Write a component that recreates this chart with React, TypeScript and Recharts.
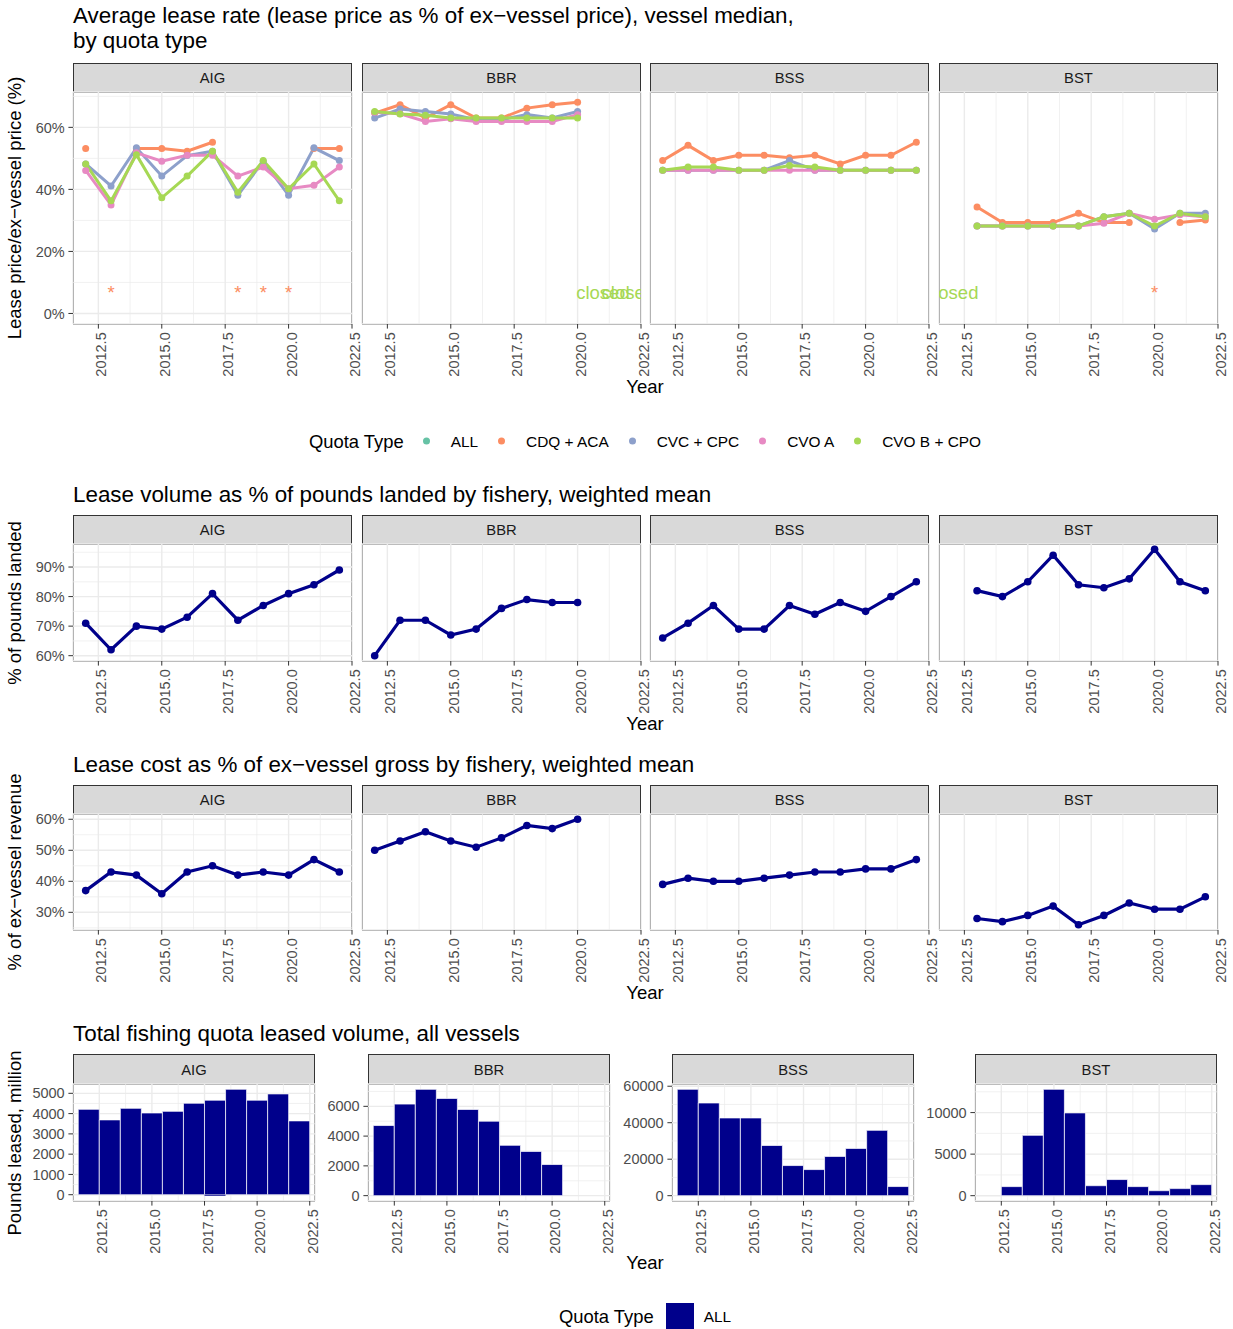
import React from 'react';
import { ComposedChart, Line, Bar, XAxis, YAxis, CartesianGrid } from 'recharts';

const FONT = '"Liberation Sans", Arial, Helvetica, sans-serif';
const NAVY = '#00008b';

// ---- data ----
const years = [2012, 2013, 2014, 2015, 2016, 2017, 2018, 2019, 2020, 2021, 2022];
const fisheries = ['AIG', 'BBR', 'BSS', 'BST'];
const firstYear = [2012, 2012, 2012, 2013]; // first year of each fishery's series
const quotaTypes = ['ALL', 'CDQ + ACA', 'CVC + CPC', 'CVO A', 'CVO B + CPO'];
const quotaColors = ['#66c2a5', '#fc8d62', '#8da0cb', '#e78ac3', '#a6d854'];

// lease rate, % of ex-vessel price (vessel median); null = suppressed
const aigCdq = [53.2, null, 53.2, 53.2, 52.3, 55.2, null, null, null, 53.2, 53.2];
const aigCvc = [48.2, 41.1, 53.4, 44.3, 50.9, 52.3, 38.1, 49.1, 38.1, 53.4, 49.3];
const aigCvoA = [46.1, 35.0, 51.8, 49.1, 51.0, 51.0, 44.3, 47.2, 40.2, 41.3, 47.2];
const aigCvoB = [48.2, 36.3, 51.2, 37.3, 44.3, 52.3, 39.1, 49.3, 40.2, 48.2, 36.3];

const bbrCdq = [64.6, 67.3, 63.0, 67.3, 63.0, 63.0, 66.2, 67.3, 68.1];
const bbrCvc = [63.0, 65.9, 65.1, 64.3, 62.5, 62.5, 64.1, 63.0, 65.1];
const bbrCvoA = [64.9, 64.4, 61.9, 62.8, 61.9, 61.9, 61.9, 61.9, 64.1];
const bbrCvoB = [65.1, 64.3, 63.9, 63.0, 63.0, 63.0, 63.0, 63.0, 63.0];

const bssCdq = [49.3, 54.2, 49.3, 51.0, 51.0, 50.2, 51.0, 48.2, 51.0, 51.0, 55.2];
const bssCvc = [46.2, 46.2, 46.2, 46.2, 46.2, 49.3, 46.2, 46.2, 46.2, 46.2, 46.2];
const bssCvoA = [46.2, 46.2, 46.2, 46.2, 46.2, 46.2, 46.2, 46.2, 46.2, 46.2, 46.2];
const bssCvoB = [46.2, 47.2, 47.2, 46.2, 46.2, 47.7, 47.2, 46.2, 46.2, 46.2, 46.2];

const bstCdq = [34.3, 29.3, 29.3, 29.3, 32.3, 29.3, 29.3, null, 29.3, 30.1];
const bstCvc = [28.2, 28.2, 28.2, 28.2, 28.2, 31.2, 32.3, 27.2, 32.3, 32.3];
const bstCvoA = [28.2, 28.2, 28.2, 28.2, 28.2, 29.1, 32.3, 30.4, 31.8, 31.2];
const bstCvoB = [28.2, 28.2, 28.2, 28.2, 28.2, 31.2, 32.3, 28.2, 32.3, 31.2];

const suppressedYears = [[2013, 2018, 2019, 2020], [], [], [2020]];
const closedYears = [[], [2021, 2022], [], [2012]];
const noteLevel = 6.7;

// lease volume as % of pounds landed
const aigVolume = [71, 62, 70, 69, 73, 81, 72, 77, 81, 84, 89];
const bbrVolume = [60, 72, 72, 67, 69, 76, 79, 78, 78];
const bssVolume = [66, 71, 77, 69, 69, 77, 74, 78, 75, 80, 85];
const bstVolume = [82, 80, 85, 94, 84, 83, 86, 96, 85, 82];

// lease cost as % of ex-vessel gross
const aigCost = [37, 43, 42, 36, 43, 45, 42, 43, 42, 47, 43];
const bbrCost = [50, 53, 56, 53, 51, 54, 58, 57, 60];
const bssCost = [39, 41, 40, 40, 41, 42, 43, 43, 44, 44, 47];
const bstCost = [28, 27, 29, 32, 26, 29, 33, 31, 31, 35];

// pounds leased, million
const aigLeased = [4210, 3690, 4260, 4030, 4110, 4510, 4660, 5200, 4660, 4970, 3640];
const aigLeasedBelowZero = [0, 0, 0, 0, 0, 0, -50, 0, 0, 0, 0];
const bbrLeased = [4710, 6150, 7140, 6530, 5790, 5000, 3380, 2970, 2090];
const bssLeased = [58300, 50800, 42600, 42600, 27500, 16500, 14300, 21500, 25900, 35800, 5000];
const bstLeased = [1090, 7260, 12800, 9960, 1200, 1940, 1090, 600, 850, 1330];

// axes
const xTicks = [2012.5, 2015, 2017.5, 2020, 2022.5];
const xMinor = [2013.75, 2016.25, 2018.75, 2021.25];
const rateTicks = [0, 20, 40, 60];
const rateMinor = [10, 30, 50, 70];
const volumeTicks = [60, 70, 80, 90];
const volumeMinor = [65, 75, 85, 95];
const costTicks = [30, 40, 50, 60];
const costMinor = [25, 35, 45, 55];
const leasedTicks = [[0, 1000, 2000, 3000, 4000, 5000], [0, 2000, 4000, 6000], [0, 20000, 40000, 60000], [0, 5000, 10000]];
const leasedMinor = [[500, 1500, 2500, 3500, 4500], [1000, 3000, 5000, 7000], [10000, 30000, 50000], [2500, 7500, 12500]];
const leasedDomains = [[-310, 5460], [-360, 7500], [-2920, 61220], [-640, 13440]];

// ---- tables built from the arrays ----
const at = (arr: (number | null)[], f: number, yr: number) => {
  const i = yr - firstYear[f];
  return i >= 0 && i < arr.length ? arr[i] : null;
};
const rateKeys = ['cdq', 'cvc', 'cvoA', 'cvoB'];
const rateSeries = [
  [aigCdq, aigCvc, aigCvoA, aigCvoB],
  [bbrCdq, bbrCvc, bbrCvoA, bbrCvoB],
  [bssCdq, bssCvc, bssCvoA, bssCvoB],
  [bstCdq, bstCvc, bstCvoA, bstCvoB],
];
const rateData = fisheries.map((_, f) =>
  years.map((yr) => {
    const row: any = { year: yr };
    rateKeys.forEach((k, s) => (row[k] = at(rateSeries[f][s], f, yr)));
    row.star = suppressedYears[f].includes(yr) ? noteLevel : null;
    row.closed = closedYears[f].includes(yr) ? noteLevel : null;
    return row;
  })
);
const volumeSeries = [aigVolume, bbrVolume, bssVolume, bstVolume];
const costSeries = [aigCost, bbrCost, bssCost, bstCost];
const leasedSeries = [aigLeased, bbrLeased, bssLeased, bstLeased];
const simpleData = (series: number[][]) =>
  fisheries.map((_, f) => years.map((yr) => ({ year: yr, v: at(series[f], f, yr) })));
const volumeData = simpleData(volumeSeries);
const costData = simpleData(costSeries);
const leasedData = fisheries.map((_, f) =>
  years
    .map((yr) => ({
      year: yr,
      v: at(leasedSeries[f], f, yr),
      neg: f === 0 ? at(aigLeasedBelowZero, f, yr) : null,
    }))
    .filter((r) => r.v != null)
);

// ---- layout ----
const Y_W = 60;
const R_M = 20;
const T_M = 12;
const X_H = 60;
const COL_L = [73, 362, 650, 939];
const COL_W = 279;
const BAR_L = [73, 368, 672, 975];
const BAR_W = 242;
const ROW1 = { strip: 63, top: 92, bottom: 324 };
const ROW2 = { strip: 515, top: 544, bottom: 661 };
const ROW3 = { strip: 785, top: 814, bottom: 930 };
const ROW4 = { strip: 1054, top: 1084, bottom: 1201 };

const pct = (v: number) => `${v}%`;
const tickStyle = { fontSize: 14.5, fill: '#4d4d4d', fontFamily: FONT };

function RotTick(props: any) {
  const { x, y, payload } = props;
  return (
    <text
      transform={`translate(${x + 3},${y}) rotate(-90)`}
      textAnchor="end"
      dominantBaseline="central"
      fontSize={14.5}
      fill="#4d4d4d"
      fontFamily={FONT}
    >
      {Number(payload.value).toFixed(1)}
    </text>
  );
}

function Frame({ left, w, row, label }: any) {
  return (
    <>
      <div
        style={{
          position: 'absolute', left, top: row.strip, width: w, height: row.top - row.strip + 1,
          background: '#d9d9d9', border: '1px solid #333', boxSizing: 'border-box',
          display: 'flex', alignItems: 'center', justifyContent: 'center', fontSize: 14.8, color: '#1a1a1a',
        }}
      >
        {label}
      </div>
      <div
        style={{
          position: 'absolute', left, top: row.top, width: w, height: row.bottom - row.top + 1,
          border: '1px solid #333', boxSizing: 'border-box', pointerEvents: 'none',
        }}
      />
    </>
  );
}

const noteDot = (text: string, color: string, field: string, clipBase: string, w: number, h: number) => (p: any) => {
  const k = `${field}-${p.index}`;
  if (typeof p.cy !== 'number' || isNaN(p.cy) || p.payload?.[field] == null) return <g key={k} />;
  const cid = `${clipBase}-${field}-${p.index}`;
  return (
    <g key={k}>
      <defs>
        <clipPath id={cid}>
          <rect x={Y_W} y={T_M} width={w} height={h} />
        </clipPath>
      </defs>
      <text x={p.cx} y={p.cy} textAnchor="middle" dominantBaseline="central" fontSize={18.5} fill={color} clipPath={`url(#${cid})`} fontFamily={FONT}>
        {text}
      </text>
    </g>
  );
};

function LineFacet({ f, row, data, keys, colors, yDomain, yTicks, yMinor, notes, lineW, dotR }: any) {
  const left = COL_L[f];
  const h = row.bottom - row.top;
  const showY = f === 0;
  const clipBase = `clip-${row.top}-${f}`;
  return (
    <>
      <Frame left={left} w={COL_W} row={row} label={fisheries[f]} />
      <div style={{ position: 'absolute', left: left - Y_W, top: row.top - T_M }}>
        <ComposedChart width={Y_W + COL_W + R_M} height={h + X_H + T_M} data={data} margin={{ top: T_M, right: R_M, bottom: 0, left: 0 }}>
          <CartesianGrid verticalValues={xMinor} horizontalValues={yMinor} stroke="#ebebeb" strokeWidth={0.7} />
          <CartesianGrid stroke="#ebebeb" strokeWidth={1.4} />
          <XAxis
            dataKey="year" type="number" domain={[2011.5, 2022.5]} ticks={xTicks} allowDataOverflow interval={0}
            axisLine={false} tickSize={4.6} tickMargin={3.7} tickLine={{ stroke: '#333' }} tick={RotTick} height={X_H}
          />
          <YAxis
            type="number" domain={yDomain} ticks={yTicks} allowDataOverflow interval={0} width={Y_W}
            axisLine={false} tickSize={4.6} tickMargin={3.7}
            tickLine={showY ? { stroke: '#333' } : false}
            tick={showY ? tickStyle : false}
            tickFormatter={pct}
          />
          {keys.map((k: string, i: number) => (
            <Line
              key={k} dataKey={k} type="linear" stroke={colors[i]} strokeWidth={lineW}
              dot={{ r: dotR, fill: colors[i], stroke: colors[i], strokeWidth: 0 }}
              activeDot={false} isAnimationActive={false} connectNulls={false}
            />
          ))}
          {notes && (
            <Line dataKey="star" stroke="none" activeDot={false} isAnimationActive={false}
              dot={noteDot('*', quotaColors[1], 'star', clipBase, COL_W, h)} />
          )}
          {notes && (
            <Line dataKey="closed" stroke="none" activeDot={false} isAnimationActive={false}
              dot={noteDot('closed', quotaColors[4], 'closed', clipBase, COL_W, h)} />
          )}
        </ComposedChart>
      </div>
    </>
  );
}

function BarFacet({ f }: any) {
  const row = ROW4;
  const left = BAR_L[f];
  const h = row.bottom - row.top;
  return (
    <>
      <Frame left={left} w={BAR_W} row={row} label={fisheries[f]} />
      <div style={{ position: 'absolute', left: left - Y_W, top: row.top - T_M }}>
        <ComposedChart width={Y_W + BAR_W + R_M} height={h + X_H + T_M} data={leasedData[f]} stackOffset="sign" margin={{ top: T_M, right: R_M, bottom: 0, left: 0 }}>
          <CartesianGrid verticalValues={xMinor} horizontalValues={leasedMinor[f]} stroke="#ebebeb" strokeWidth={0.7} />
          <CartesianGrid stroke="#ebebeb" strokeWidth={1.4} />
          <XAxis
            dataKey="year" type="number" domain={[2011.25, 2022.75]} ticks={xTicks} allowDataOverflow interval={0}
            axisLine={false} tickSize={4.6} tickMargin={3.7} tickLine={{ stroke: '#333' }} tick={RotTick} height={X_H}
          />
          <YAxis
            type="number" domain={leasedDomains[f]} ticks={leasedTicks[f]} allowDataOverflow interval={0} width={Y_W}
            axisLine={false} tickSize={4.6} tickMargin={3.7} tickLine={{ stroke: '#333' }}
            tick={tickStyle}
          />
          <Bar dataKey="v" stackId="a" barSize={21} fill={NAVY} stroke="#fff" strokeWidth={0.7} isAnimationActive={false} />
          {f === 0 && <Bar dataKey="neg" stackId="a" barSize={21} fill={NAVY} isAnimationActive={false} />}
        </ComposedChart>
      </div>
    </>
  );
}

function Title({ top, lines }: any) {
  return (
    <div style={{ position: 'absolute', left: 73, top, fontSize: 22.4, lineHeight: '25px', whiteSpace: 'nowrap' }}>
      {lines.map((l: string) => (
        <div key={l}>{l}</div>
      ))}
    </div>
  );
}

function YTitle({ cy, text }: any) {
  return (
    <div style={{ position: 'absolute', left: 15, top: cy, transform: 'translate(-50%, -50%) rotate(-90deg)', fontSize: 18.5, whiteSpace: 'nowrap' }}>
      {text}
    </div>
  );
}

function XTitle({ cy }: any) {
  return (
    <div style={{ position: 'absolute', left: 645, top: cy, transform: 'translate(-50%, -50%)', fontSize: 18.5 }}>Year</div>
  );
}

function LegendRow({ cy, children }: any) {
  return (
    <div style={{ position: 'absolute', left: 0, width: 1290, top: cy, transform: 'translateY(-50%)', display: 'flex', justifyContent: 'center', alignItems: 'center', whiteSpace: 'nowrap' }}>
      {children}
    </div>
  );
}

export default function App() {
  const rowFacets = (row: any, yDomain: number[], yTicks: number[], yMinor: number[], dataset: any[], lineKeys: string[], colors: string[], notes: boolean, lineW: number, dotR: number) =>
    fisheries.map((name, f) => (
      <LineFacet key={`${row.top}-${name}`} f={f} row={row} data={dataset[f]} keys={lineKeys} colors={colors}
        yDomain={yDomain} yTicks={yTicks} yMinor={yMinor} notes={notes} lineW={lineW} dotR={dotR} />
    ));

  return (
    <div style={{ position: 'absolute', left: 0, top: 0, width: 1233, height: 1329, background: '#fff', fontFamily: FONT, color: '#000', overflow: 'hidden' }}>
      <Title top={2.5} lines={['Average lease rate (lease price as % of ex\u2212vessel price), vessel median,', 'by quota type']} />
      <YTitle cy={208} text={'Lease price/ex\u2212vessel price (%)'} />
      {rowFacets(ROW1, [-3.4, 71.4], rateTicks, rateMinor, rateData, rateKeys, quotaColors.slice(1), true, 3, 3.5)}
      <XTitle cy={387} />
      <LegendRow cy={441}>
        <span style={{ fontSize: 18.4, marginRight: 8 }}>Quota Type</span>
        {quotaTypes.map((q, i) => (
          <span key={q} style={{ display: 'flex', alignItems: 'center', marginRight: i < quotaTypes.length - 1 ? 9 : 0 }}>
            <svg width={29} height={29}>
              <circle cx={14.5} cy={14.5} r={3.5} fill={quotaColors[i]} />
            </svg>
            <span style={{ fontSize: 15.4, marginLeft: 10 }}>{q}</span>
          </span>
        ))}
      </LegendRow>

      <Title top={481.5} lines={['Lease volume as % of pounds landed by fishery, weighted mean']} />
      <YTitle cy={602.5} text="% of pounds landed" />
      {rowFacets(ROW2, [58.2, 97.8], volumeTicks, volumeMinor, volumeData, ['v'], [NAVY], false, 3.2, 3.8)}
      <XTitle cy={724} />

      <Title top={751.5} lines={['Lease cost as % of ex\u2212vessel gross by fishery, weighted mean']} />
      <YTitle cy={872} text={'% of ex\u2212vessel revenue'} />
      {rowFacets(ROW3, [24.3, 61.7], costTicks, costMinor, costData, ['v'], [NAVY], false, 3.2, 3.8)}
      <XTitle cy={993} />

      <Title top={1020.5} lines={['Total fishing quota leased volume, all vessels']} />
      <YTitle cy={1142.5} text="Pounds leased, million" />
      {fisheries.map((name, f) => (
        <BarFacet key={`bar-${name}`} f={f} />
      ))}
      <XTitle cy={1263} />
      <LegendRow cy={1317}>
        <span style={{ fontSize: 18.4, marginRight: 12 }}>Quota Type</span>
        <span style={{ display: 'inline-block', width: 28, height: 28, background: NAVY }} />
        <span style={{ fontSize: 15.4, marginLeft: 10 }}>{quotaTypes[0]}</span>
      </LegendRow>
    </div>
  );
}
